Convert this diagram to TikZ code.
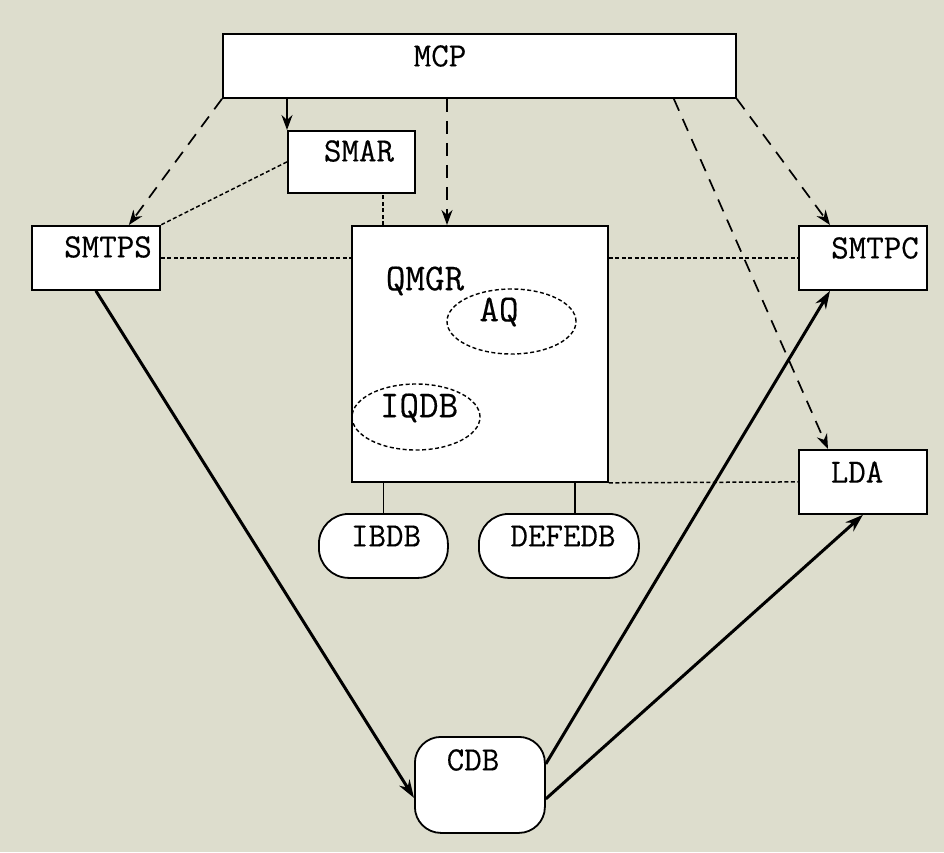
\documentclass[tikz,border=0pt]{standalone}
\usepackage{fontspec}
\newfontfamily\cfont{Latin Modern Mono}[FakeBold=0.35]
\usetikzlibrary{calc,arrows.meta,shapes.geometric}
\definecolor{bgcol}{RGB}{221,221,205}
\begin{document}
\begin{tikzpicture}[x=1pt,y=-1pt,
  box/.style={draw,line width=1.8pt,fill=white,rectangle,inner sep=0pt,anchor=north west},
  rbox/.style={box,rounded corners=26pt},
  lbl/.style={inner sep=0pt,font=\fontsize{34}{34}\selectfont\cfont},
  biglbl/.style={inner sep=0pt,font=\fontsize{38}{38}\selectfont\cfont},
  dashln/.style={line width=1.7pt,dash pattern=on 13pt off 9pt,-{Stealth[length=15pt,width=11pt]}},
  dotln/.style={line width=1.5pt,dash pattern=on 4pt off 2.5pt},
  solidarr/.style={line width=1.7pt,-{Stealth[length=15pt,width=11pt]}},
  thickarr/.style={line width=3pt,-{Stealth[length=18pt,width=12pt]}},
  plain/.style={line width=1.7pt},
  oval/.style={draw,ellipse,line width=1.4pt,dash pattern=on 4pt off 2.5pt,inner sep=0pt}]
\fill[bgcol] (0,0) rectangle (944,852);
\useasboundingbox (0,0) rectangle (944,852);
% boxes
\node[box,minimum width=513pt,minimum height=64pt] (mcp) at (222,33) {};
\node[box,minimum width=127pt,minimum height=62pt] (smar) at (287,130) {};
\node[box,minimum width=128pt,minimum height=64pt] (smtps) at (31,225) {};
\node[box,minimum width=256pt,minimum height=256pt] (qmgr) at (351,225) {};
\node[box,minimum width=128pt,minimum height=64pt] (smtpc) at (798,225) {};
\node[box,minimum width=128pt,minimum height=64pt] (lda) at (798,449) {};
\node[rbox,minimum width=129pt,minimum height=64pt,rounded corners=30pt] (ibdb) at (318,513) {};
\node[rbox,minimum width=160pt,minimum height=64pt,rounded corners=30pt] (defedb) at (478,513) {};
\node[rbox,minimum width=130pt,minimum height=96pt] (cdb) at (414,736) {};
% ovals
\node[oval,minimum width=129pt,minimum height=65pt] (aq) at (511.5,321.5) {};
\node[oval,minimum width=128pt,minimum height=66pt] (iqdb) at (416,417) {};
% labels
\node[lbl] (mcpT) at (440,56) {MCP};
\node[lbl] (smarT) at (359,151) {SMAR};
\node[lbl] (smtpsT) at (108,247) {SMTPS};
\node[lbl] (smtpcT) at (875,248) {SMTPC};
\node[lbl] (ldaT) at (857,472) {LDA};
\node[lbl] (ibdbT) at (386,536) {IBDB};
\node[lbl] (defedbT) at (563,536) {DEFEDB};
\node[lbl] (cdbT) at (473,760) {CDB};
\node[biglbl] (qmgrT) at (425,281) {QMGR};
\node[biglbl] (aqT) at (499,312) {AQ};
\node[biglbl] (iqdbT) at (419,408) {IQDB};
% helper coordinates
\coordinate (qs) at ($(qmgr.north west)+(32,0)$);
\coordinate (qa) at ($(qmgr.north west)+(96,0)$);
\coordinate (dq) at ($(defedb.north west)+(97,0)$);
% MCP connectors
\draw[solidarr] (smar.north west |- mcp.south) -- (smar.north west);
\draw[dashln] (qa |- mcp.south) -- (qa);
\draw[dashln] (mcp.south west) -- ($(smtps.north)+(33,0)$);
\draw[dashln] (mcp.south east) -- ($(smtpc.north west)+(32,0)$);
\draw[dashln] ($(mcp.south east)+(-63,0)$) -- ($(lda.north west)+(30,0)$);
% dotted connectors
\draw[dotln] (smar.west) -- (smtps.north east);
\draw[dotln] (qs) -- (qs |- smar.south);
\draw[dotln] (smtps.east) -- (smtps.east -| qmgr.west);
\draw[dotln] (smtpc.west -| qmgr.east) -- (smtpc.west);
\draw[dotln] (qmgr.south east) -- (lda.west);
% QMGR to databases
\draw[plain] (ibdb.north) -- (ibdb.north |- qmgr.south);
\draw[plain] (dq) -- (dq |- qmgr.south);
% CDB connectors
\draw[thickarr] (smtps.south) -- ($(cdb.west)+(0,13)$);
\draw[thickarr] ($(cdb.east)+(0,-21)$) -- ($(smtpc.south west)+(32,0)$);
\draw[thickarr] ($(cdb.east)+(0,14)$) -- (lda.south);
\end{tikzpicture}
\end{document}
